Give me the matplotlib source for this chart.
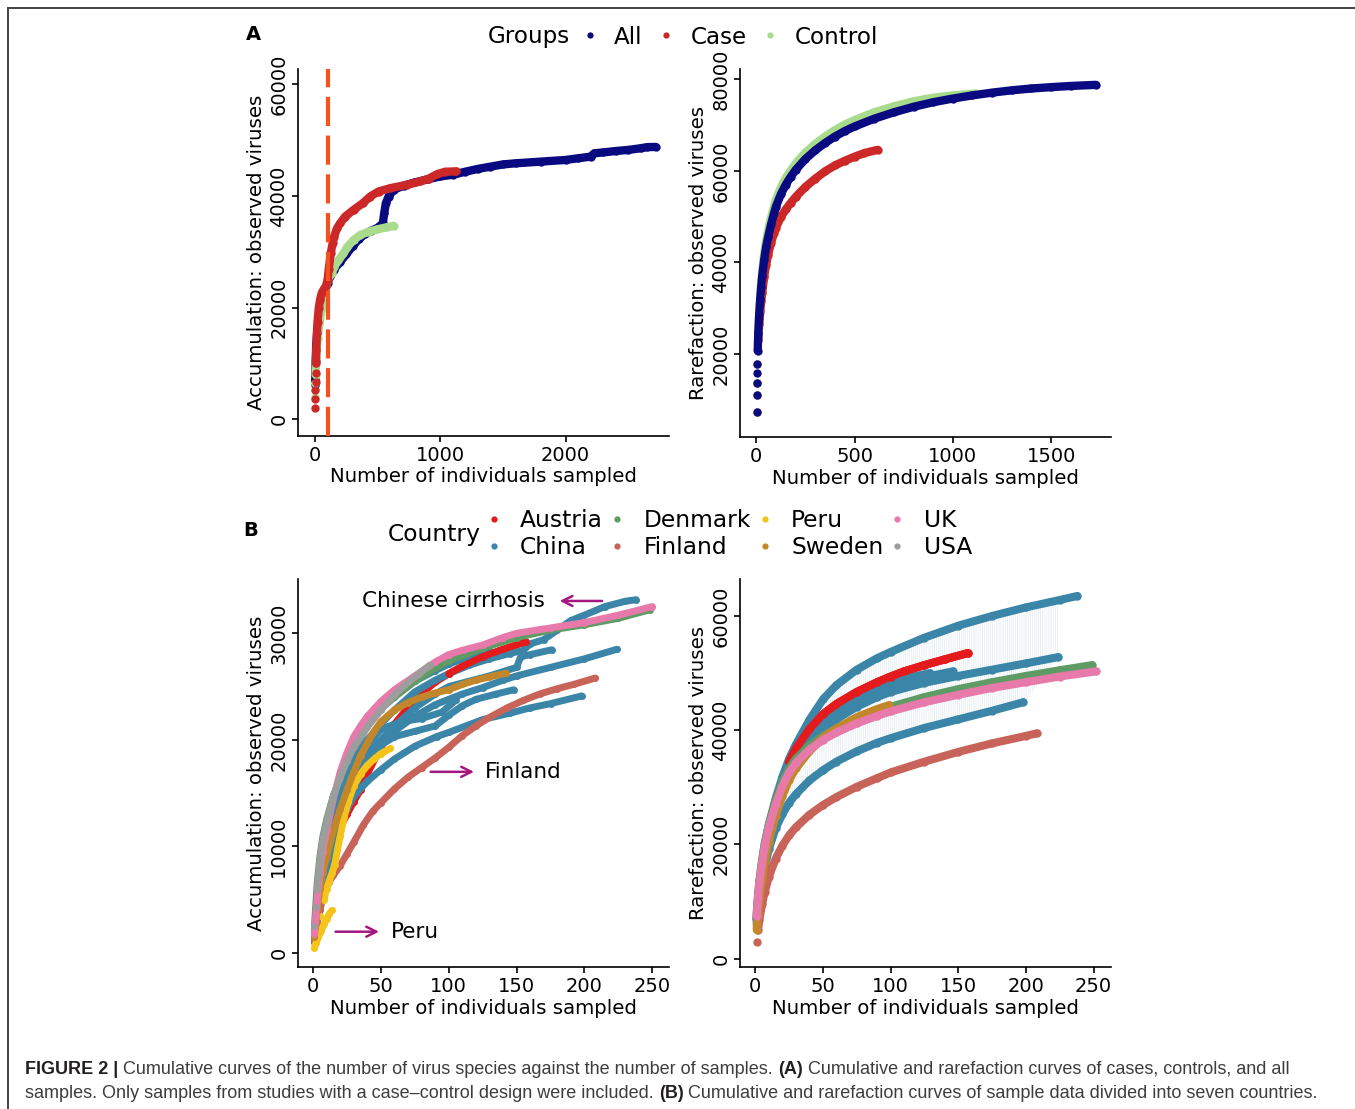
import matplotlib
matplotlib.use('Agg')
import matplotlib.pyplot as plt
from matplotlib.lines import Line2D
from matplotlib import font_manager

# ---------------- data ----------------
# Panel A: accumulation curves (x = individuals, y = observed viruses)
acc_all_x = [1, 2, 5, 10, 20, 50, 100, 150, 200, 250, 300, 350, 400, 450, 500, 541, 552, 565, 587, 627, 707,
             800, 900, 1000, 1100, 1200, 1300, 1400, 1500, 1600, 1800, 2000, 2100, 2200, 2230, 2300, 2400,
             2500, 2600, 2650, 2720]
acc_all_y = [6100, 7000, 10500, 13500, 16500, 20500, 24500, 26800, 28200, 29600, 31000, 32300, 33200, 33800,
             34300, 35100, 36900, 38700, 39900, 41100, 41850, 42450, 43000, 43500, 43800, 44350, 44850, 45250,
             45650, 45850, 46150, 46450, 46750, 47050, 47650, 47800, 48050, 48250, 48550, 48750, 48780]
acc_case_x = [1, 2, 3, 4, 5, 7, 10, 15, 20, 30, 40, 53, 70, 88, 100, 110, 125, 140, 152, 175, 200, 240, 307,
              381, 440, 507, 600, 733, 840, 907, 973, 1040, 1128]
acc_case_y = [2100, 3700, 5300, 6700, 8300, 10000, 12500, 15500, 17500, 20000, 21400, 22600, 23300, 23900,
              25000, 27000, 29700, 31500, 32700, 34200, 35100, 36300, 37500, 38700, 39900, 40800, 41400, 42000,
              42600, 43100, 43900, 44350, 44400]
acc_ctrl_x = [1, 2, 3, 5, 10, 20, 50, 100, 133, 152, 187, 227, 259, 307, 360, 427, 493, 573, 627]
acc_ctrl_y = [4000, 5200, 6500, 8000, 11000, 14500, 19500, 24900, 26200, 27300, 28500, 29700, 30900, 32100,
              33000, 33600, 34000, 34400, 34650]

# Panel A: rarefaction curves
rar_all_x = [1, 2, 3, 4, 5, 7, 10, 15, 20, 25, 30, 40, 50, 60, 75, 90, 100, 125, 150, 175, 200, 250, 300,
             350, 400, 450, 500, 600, 700, 800, 900, 1000, 1100, 1200, 1300, 1400, 1500, 1600, 1728]
rar_all_y = [7300, 11100, 13650, 15850, 17750, 20700, 24500, 28800, 32000, 34700, 37000, 40600, 43400, 45500,
             48300, 50700, 52200, 54900, 57000, 58700, 60200, 62600, 64500, 66100, 67500, 68700, 69700, 71400,
             72800, 74000, 75000, 75800, 76500, 77100, 77600, 78000, 78300, 78550, 78800]
rar_case_x = [1, 2, 3, 5, 10, 15, 20, 25, 30, 40, 50, 60, 75, 90, 100, 125, 150, 175, 200, 250, 300, 350, 400,
              450, 500, 550, 617]
rar_case_y = [7300, 11100, 13650, 17750, 23000, 26500, 29300, 31500, 33300, 36800, 39500, 41700, 44300, 46400,
              47600, 49900, 51600, 53000, 54300, 56500, 58300, 59900, 61200, 62200, 63100, 63900, 64600]
rar_ctrl_x = [1, 2, 3, 5, 10, 15, 20, 25, 30, 40, 50, 60, 75, 90, 100, 125, 150, 175, 200, 250, 300, 350, 400,
              450, 500, 600, 700, 800, 900, 1000, 1116]
rar_ctrl_y = [7300, 11100, 13650, 17750, 25000, 29500, 32900, 35700, 38100, 41900, 44800, 47000, 49800, 52200,
              53700, 56400, 58500, 60100, 61600, 64000, 65900, 67500, 68900, 70100, 71100, 72800, 74100, 75200,
              76000, 76500, 76900]

groups = ['All', 'Case', 'Control']
group_colors = ['#0A0A80', '#CD2828', '#A8DC8C']

# Panel B: accumulation curves by country
countries = ['Austria', 'China', 'Denmark', 'Finland', 'Peru', 'Sweden', 'UK', 'USA']
country_colors = ['#E41A1C', '#3B86A8', '#5E9B65', '#C8635A', '#F5C41A', '#C2872B', '#E77AAA', '#9D9D9D']

bacc_austria_x = [1, 3, 5, 7, 10, 15, 20, 25, 30, 35, 40, 50, 60, 75, 90, 100, 110, 125, 140, 157]
bacc_austria_y = [1500, 3500, 5000, 6300, 8000, 10200, 11800, 13000, 14200, 15300, 16800, 19300, 21500, 23800,
                  25400, 26200, 26900, 27800, 28500, 29200]
bacc_china1_x = [1, 3, 5, 7, 10, 15, 20, 25, 30, 40, 50, 60, 75, 90, 100, 115, 130, 145, 155, 160, 170, 180,
                 190, 200, 215, 230, 238]
bacc_china1_y = [1500, 4500, 6500, 8300, 10000, 12500, 14500, 16300, 17800, 20000, 21500, 22800, 24500, 25600,
                 26200, 27000, 27600, 28100, 28400, 29000, 29400, 30300, 31200, 31700, 32500, 33000, 33150]
bacc_china2_x = [1, 3, 5, 7, 10, 15, 20, 25, 30, 40, 50, 59, 75, 90, 100, 115, 130]
bacc_china2_y = [2000, 4800, 6500, 8300, 10500, 13300, 15500, 17400, 19000, 21300, 23000, 24000, 25500, 26500,
                 27100, 27800, 28430]
bacc_china3_x = [1, 5, 7, 10, 15, 20, 25, 30, 40, 50, 60, 75, 90, 100, 115, 130, 140, 150, 153, 160, 176]
bacc_china3_y = [1500, 5500, 7200, 9000, 11500, 13500, 15200, 16500, 18500, 20000, 21300, 23000, 24300, 25000,
                 25500, 26000, 26400, 26800, 27800, 28000, 28450]
bacc_china4_x = [1, 5, 7, 10, 15, 20, 25, 30, 40, 50, 60, 75, 90, 100, 110, 125, 140, 150, 175, 200, 224]
bacc_china4_y = [1200, 5000, 6700, 8500, 10800, 12500, 14100, 15500, 17800, 19700, 20800, 22200, 23300, 23800,
                 24300, 24900, 25600, 26000, 26800, 27600, 28500]
bacc_china5_x = [1, 5, 7, 10, 15, 20, 25, 30, 40, 50, 60, 75, 91, 100, 125, 145, 160, 175, 198]
bacc_china5_y = [1000, 4500, 6200, 8000, 10300, 12000, 13500, 14700, 16100, 17200, 18200, 19400, 20300, 20700,
                 21900, 22500, 23000, 23400, 24120]
bacc_china6_x = [1, 5, 7, 10, 15, 20, 25, 30, 40, 50, 60, 75, 90, 100, 110, 120, 135, 148]
bacc_china6_y = [1300, 5000, 6800, 8500, 11000, 13000, 14600, 16000, 18000, 19500, 20300, 20800, 21300, 22300,
                 23200, 23800, 24300, 24700]
bacc_china7_x = [1, 5, 7, 10, 15, 20, 25, 30, 40, 50, 65, 80, 95, 105]
bacc_china7_y = [1800, 6000, 7800, 9500, 12000, 14200, 15900, 17300, 19400, 21000, 21700, 22000, 22600, 23700]
bacc_denmark_x = [1, 2, 3, 5, 7, 10, 15, 20, 25, 30, 40, 50, 60, 75, 90, 100, 125, 150, 175, 200, 225, 248]
bacc_denmark_y = [2500, 4500, 6500, 9000, 10800, 12500, 14800, 16400, 18100, 19500, 21300, 22900, 24000, 25500,
                  26700, 27400, 28600, 29600, 30300, 30800, 31400, 32200]
bacc_finland_x = [1, 3, 5, 7, 9, 12, 15, 20, 25, 30, 37, 44, 50, 60, 70, 80, 90, 100, 110, 120, 130, 143, 155,
                  167, 180, 192, 208]
bacc_finland_y = [1200, 2800, 4000, 5100, 5900, 6700, 7300, 8200, 9300, 10400, 12000, 13300, 14100, 15400,
                  16500, 17400, 18300, 19300, 20400, 21300, 22100, 23000, 23700, 24300, 24800, 25200, 25800]
bacc_peru1_x = [1, 2, 4, 6, 8, 10, 12, 14]
bacc_peru1_y = [500, 900, 1500, 2100, 2700, 3200, 3700, 4000]
bacc_peru2_x = [2, 5, 8, 10, 12, 14, 16, 18, 20, 23, 26, 30, 35, 40, 45, 50, 57]
bacc_peru2_y = [1200, 3500, 5000, 6000, 6800, 7500, 8300, 9700, 11000, 12800, 14200, 15700, 16800, 17600, 18200,
                18700, 19200]
bacc_sweden_x = [1, 3, 5, 7, 10, 15, 20, 25, 30, 35, 40, 45, 50, 60, 70, 80, 90, 100, 110, 120, 130, 142]
bacc_sweden_y = [1500, 4000, 6000, 7500, 9000, 11500, 13500, 15300, 17000, 18500, 19700, 20800, 21700, 22800,
                 23500, 24000, 24400, 24700, 25200, 25600, 25900, 26250]
bacc_uk_x = [1, 2, 3, 5, 7, 10, 15, 20, 25, 30, 35, 40, 50, 60, 75, 90, 100, 110, 125, 140, 150, 175, 200,
             225, 250]
bacc_uk_y = [1800, 3500, 5000, 7500, 9500, 11500, 14500, 17000, 18800, 20300, 21300, 22200, 23600, 24700, 26000,
             27300, 28000, 28400, 28900, 29600, 30000, 30500, 31000, 31700, 32500]
bacc_usa_x = [1, 2, 3, 5, 7, 10, 15, 20, 25, 30, 40, 50, 60, 70, 78, 86]
bacc_usa_y = [2500, 4300, 6000, 8500, 10500, 12200, 14700, 16500, 18000, 19300, 21200, 22800, 24200, 25400,
              26200, 27000]

# Panel B: rarefaction curves by country
brar_austria_x = [1, 2, 3, 5, 7, 10, 15, 20, 25, 30, 40, 50, 60, 75, 90, 100, 110, 125, 140, 157]
brar_austria_y = [7000, 10300, 12800, 16500, 19500, 23000, 27500, 31000, 34500, 36800, 40200, 42800, 44600,
                  46700, 48400, 49400, 50300, 51400, 52400, 53500]
brar_china1_x = [1, 2, 3, 5, 7, 10, 15, 20, 25, 30, 40, 50, 60, 75, 90, 100, 125, 150, 175, 200, 225, 238]
brar_china1_y = [6800, 10500, 13000, 17000, 20000, 23500, 28000, 31800, 35000, 37500, 41800, 45400, 47900,
                 50600, 52600, 53700, 56200, 58300, 60000, 61500, 62800, 63500]
brar_china2_x = [1, 2, 3, 5, 7, 10, 15, 20, 25, 30, 40, 50, 60, 75, 90, 100, 125, 150, 175, 200, 224]
brar_china2_y = [6500, 9600, 12000, 15300, 18200, 21500, 26000, 29300, 32000, 34000, 37300, 40000, 41900, 44100,
                 45800, 46700, 48300, 49500, 50600, 51700, 52800]
brar_china3_x = [1, 3, 5, 7, 10, 15, 20, 25, 30, 40, 50, 60, 75, 90, 100, 125, 146]
brar_china3_y = [7000, 12300, 15800, 18800, 22200, 27000, 30500, 33200, 35300, 38600, 41000, 42900, 45100, 46800,
                 47700, 49300, 50300]
brar_china4_x = [1, 3, 5, 7, 10, 15, 20, 25, 30, 40, 50, 60, 75, 90, 100, 115, 129]
brar_china4_y = [7500, 12800, 16300, 19300, 22800, 27600, 31000, 33800, 36000, 39400, 41900, 43800, 45900, 47600,
                 48500, 49300, 50000]
brar_china5_x = [1, 2, 3, 5, 7, 10, 15, 20, 25, 30, 40, 50, 60, 75, 90, 100, 125, 150, 175, 198]
brar_china5_y = [6000, 8500, 10500, 13500, 16000, 19200, 22800, 25300, 27300, 28800, 31200, 33000, 34500, 36300,
                 37800, 38600, 40400, 41900, 43400, 44900]
brar_denmark_x = [1, 2, 3, 5, 7, 10, 15, 20, 25, 30, 40, 50, 60, 75, 90, 100, 125, 150, 175, 200, 225, 249]
brar_denmark_y = [8000, 11200, 13700, 17300, 20300, 23500, 27600, 30900, 33300, 35000, 37300, 39000, 40300,
                  42000, 43300, 44100, 45800, 47200, 48400, 49500, 50500, 51400]
brar_finland_x = [1, 2, 3, 5, 7, 10, 15, 20, 25, 30, 40, 50, 60, 75, 90, 100, 125, 150, 175, 200, 208]
brar_finland_y = [2900, 5000, 6800, 9500, 11700, 14300, 17500, 19800, 21600, 23000, 25200, 26900, 28300, 30100,
                  31600, 32600, 34500, 36200, 37700, 39000, 39450]
brar_sweden_x = [1, 2, 3, 5, 7, 10, 15, 20, 25, 30, 40, 50, 60, 75, 90, 99]
brar_sweden_y = [5100, 8000, 10400, 14000, 17000, 20500, 25000, 28500, 31300, 33300, 36300, 38700, 40300, 42300,
                 43700, 44400]
brar_uk_x = [1, 2, 3, 5, 7, 10, 15, 20, 25, 30, 40, 50, 60, 75, 90, 100, 125, 150, 175, 200, 225, 252]
brar_uk_y = [7500, 10700, 13200, 16800, 19700, 23000, 27000, 30200, 32600, 34300, 36600, 38300, 39600, 41200,
             42500, 43300, 44900, 46200, 47400, 48400, 49400, 50300]
# faint interval band behind the China rarefaction curves
band_x = [20, 25, 30, 40, 50, 60, 75, 90, 100, 125, 150, 175, 198, 210, 224]
band_lo = [25300, 27300, 28800, 31200, 33000, 34500, 36300, 37800, 38600, 40400, 41900, 43400, 44900, 48000, 52800]
band_hi = [31800, 35000, 37500, 41800, 45300, 47800, 50500, 52600, 53700, 56200, 58300, 60000, 61500, 62100, 62800]

# ---------------- figure ----------------
W, H = 1355, 1109
fig = plt.figure(figsize=(W / 100, H / 100), dpi=100)
fig.patch.set_facecolor('white')
plt.rcParams['hatch.linewidth'] = 0.5


def px_rect(l, t, r, b):
    return [l / W, 1 - b / H, (r - l) / W, (b - t) / H]


def style(ax, xlim, ylim, xticks, yticks, ylabel):
    ax.set_xlim(xlim)
    ax.set_ylim(ylim)
    ax.set_xticks(xticks)
    ax.set_yticks(yticks)
    for s in ['top', 'right']:
        ax.spines[s].set_visible(False)
    for s in ['left', 'bottom']:
        ax.spines[s].set_linewidth(1.2)
        ax.spines[s].set_color('black')
    ax.tick_params(length=4, width=1.2, labelsize=14, colors='black', pad=3)
    ax.tick_params(axis='y', labelrotation=90)
    for lab in ax.get_yticklabels():
        lab.set_va('center')
    ax.set_xlabel('Number of individuals sampled', fontsize=14.2, labelpad=2)
    ax.set_ylabel(ylabel, fontsize=14.2, labelpad=2.5)
    ax.patch.set_alpha(0)


def curve(ax, x, y, color, lw, ms, nsparse=0, z=2):
    ax.plot(x[nsparse:], y[nsparse:], color=color, lw=lw, solid_capstyle='round',
            solid_joinstyle='round', zorder=z)
    ax.plot(x, y, ls='none', marker='o', ms=ms, color=color, mec='none', zorder=z)


def tail_from(x, y, x0):
    i = next(k for k, v in enumerate(x) if v >= x0)
    return x[i:], y[i:]


# ---- Panel A left
axA1 = fig.add_axes(px_rect(298, 69, 669, 436))
style(axA1, (-136, 2825), (-2990, 62740), [0, 1000, 2000], [0, 20000, 40000, 60000],
      'Accumulation: observed viruses')
curve(axA1, acc_all_x, acc_all_y, group_colors[0], 6, 6, nsparse=1, z=2)
curve(axA1, acc_ctrl_x, acc_ctrl_y, group_colors[2], 6, 6, nsparse=3, z=3)
curve(axA1, acc_case_x, acc_case_y, group_colors[1], 6, 6, nsparse=5, z=4)
axA1.axvline(100, color='#F4511E', lw=3, ls=(0, (7, 2.3)), zorder=6)

# ---- Panel A right
axA2 = fig.add_axes(px_rect(740, 69, 1111, 437))
style(axA2, (-83, 1805), (1860, 82260), [0, 500, 1000, 1500], [20000, 40000, 60000, 80000],
      'Rarefaction: observed viruses')
curve(axA2, rar_case_x, rar_case_y, group_colors[1], 6, 6, nsparse=4, z=2)
curve(axA2, rar_ctrl_x, rar_ctrl_y, group_colors[2], 6, 6, nsparse=4, z=3)
curve(axA2, rar_all_x, rar_all_y, group_colors[0], 6, 6, nsparse=5, z=4)

# ---- Panel B left
axB1 = fig.add_axes(px_rect(298, 579, 669, 967))
style(axB1, (-11.1, 262.3), (-1312, 35090), [0, 50, 100, 150, 200, 250], [0, 10000, 20000, 30000],
      'Accumulation: observed viruses')
cc = dict(zip(countries, country_colors))
LWB = 5
MSB = 5
curve(axB1, bacc_austria_x, bacc_austria_y, cc['Austria'], LWB, MSB, z=2)
for xs, ys in [(bacc_china1_x, bacc_china1_y), (bacc_china2_x, bacc_china2_y), (bacc_china3_x, bacc_china3_y),
               (bacc_china4_x, bacc_china4_y), (bacc_china5_x, bacc_china5_y), (bacc_china6_x, bacc_china6_y),
               (bacc_china7_x, bacc_china7_y)]:
    curve(axB1, xs, ys, cc['China'], LWB, MSB, z=2.5)
tx, ty = tail_from(bacc_austria_x, bacc_austria_y, 100)
curve(axB1, tx, ty, cc['Austria'], LWB, MSB, z=2.6)
curve(axB1, bacc_denmark_x, bacc_denmark_y, cc['Denmark'], LWB, MSB, z=3)
curve(axB1, bacc_finland_x, bacc_finland_y, cc['Finland'], LWB, MSB, z=4)
curve(axB1, bacc_peru1_x, bacc_peru1_y, cc['Peru'], LWB, MSB, z=5)
curve(axB1, bacc_peru2_x, bacc_peru2_y, cc['Peru'], LWB, MSB, nsparse=2, z=5)
curve(axB1, bacc_sweden_x, bacc_sweden_y, cc['Sweden'], LWB, MSB, z=6)
curve(axB1, bacc_uk_x, bacc_uk_y, cc['UK'], LWB, MSB, z=7)
curve(axB1, bacc_usa_x, bacc_usa_y, cc['USA'], LWB, MSB, nsparse=2, z=8)

ann_color = '#A3177F'
axB1.text(35.9, 33030, 'Chinese cirrhosis', fontsize=15.5, va='center', ha='left', zorder=10)
axB1.annotate('', xy=(179.7, 33030), xytext=(215, 33030),
              arrowprops=dict(arrowstyle='->', color=ann_color, lw=1.8, mutation_scale=18), zorder=10)
axB1.text(126.6, 17000, 'Finland', fontsize=15.5, va='center', ha='left', zorder=10)
axB1.annotate('', xy=(120.7, 17000), xytext=(84.6, 17000),
              arrowprops=dict(arrowstyle='->', color=ann_color, lw=1.8, mutation_scale=18), zorder=10)
axB1.text(57.3, 2000, 'Peru', fontsize=15.5, va='center', ha='left', zorder=10)
axB1.annotate('', xy=(50.7, 2000), xytext=(14.5, 2000),
              arrowprops=dict(arrowstyle='->', color=ann_color, lw=1.8, mutation_scale=18), zorder=10)

# ---- Panel B right
axB2 = fig.add_axes(px_rect(740, 579, 1111, 967))
style(axB2, (-11.3, 262.9), (-1452, 66470), [0, 50, 100, 150, 200, 250], [0, 20000, 40000, 60000],
      'Rarefaction: observed viruses')
axB2.fill_between(band_x, band_lo, band_hi, facecolor='none', edgecolor='#e0eaef', hatch='||||||||',
                  linewidth=0, zorder=1)
LWR = 5.8
MSR = 6
curve(axB2, brar_austria_x, brar_austria_y, cc['Austria'], LWR, MSR, z=3)
for xs, ys in [(brar_china1_x, brar_china1_y), (brar_china2_x, brar_china2_y), (brar_china3_x, brar_china3_y),
               (brar_china4_x, brar_china4_y), (brar_china5_x, brar_china5_y)]:
    curve(axB2, xs, ys, cc['China'], LWR, MSR, z=3.5)
tx, ty = tail_from(brar_austria_x, brar_austria_y, 25)
curve(axB2, tx, ty, cc['Austria'], LWR, MSR, z=3.6)
curve(axB2, brar_denmark_x, brar_denmark_y, cc['Denmark'], LWR, MSR, z=4)
curve(axB2, brar_finland_x, brar_finland_y, cc['Finland'], LWR, MSR, nsparse=1, z=5)
curve(axB2, brar_sweden_x, brar_sweden_y, cc['Sweden'], LWR, MSR, z=6)
curve(axB2, brar_uk_x, brar_uk_y, cc['UK'], LWR, MSR, z=7)

# ---- Legends
fig.text(488 / W, 1 - 37 / H, 'Groups', fontsize=16.6, va='center', ha='left')
hA = [Line2D([], [], ls='none', marker='o', ms=4.5, color=c, mec='none') for c in group_colors]
fig.legend(hA, groups, loc='center left', bbox_to_anchor=(584 / W, 1 - 37 / H), ncol=3, frameon=False,
           fontsize=16.6, handlelength=0.5, handletextpad=0.8, columnspacing=0.78, borderpad=0,
           borderaxespad=0)

fig.text(388 / W, 1 - 534 / H, 'Country', fontsize=16.8, va='center', ha='left')
hB = [Line2D([], [], ls='none', marker='o', ms=4.5, color=c, mec='none') for c in country_colors]
fig.legend(hB, countries, loc='center left', bbox_to_anchor=(488 / W, 1 - 534 / H), ncol=4, frameon=False,
           fontsize=16.8, handlelength=0.5, handletextpad=0.88, columnspacing=0.35, borderpad=0,
           borderaxespad=0, labelspacing=0.18)

fig.text(253 / W, 1 - 35 / H, 'A', fontsize=14, fontweight='bold', ha='center', va='center')
fig.text(251 / W, 1 - 531 / H, 'B', fontsize=14, fontweight='bold', ha='center', va='center')

# ---- frame lines
fig.add_artist(Line2D([8 / W, 8 / W], [0, 1 - 8 / H], transform=fig.transFigure, color='#444444', lw=1.4))
fig.add_artist(Line2D([8 / W, 1], [1 - 8 / H, 1 - 8 / H], transform=fig.transFigure, color='#444444', lw=1.4))

# ---- caption
cap_family = 'Liberation Sans'
try:
    font_manager.findfont(font_manager.FontProperties(family='Liberation Sans Narrow'),
                          fallback_to_default=False)
    cap_family = 'Liberation Sans Narrow'
except Exception:
    cap_family = 'Liberation Sans'

cap_lines = [
    [('FIGURE 2 |', True), ('Cumulative curves of the number of virus species against the number of samples.', False),
     ('(A)', True), ('Cumulative and rarefaction curves of cases, controls, and all', False)],
    [('samples. Only samples from studies with a case\u2013control design were included.', False),
     ('(B)', True), ('Cumulative and rarefaction curves of sample data divided into seven countries.', False)],
]
cap_y = [1069, 1094]
renderer = fig.canvas.get_renderer()


def text_w(s, fs, bold):
    t = fig.text(0, 0, s, fontsize=fs, family=cap_family, fontweight='bold' if bold else 'normal')
    w = t.get_window_extent(renderer).width
    t.remove()
    return w


def line_width(segs, fs):
    sp = text_w('x x', fs, False) - text_w('xx', fs, False)
    return sum(text_w(s, fs, b) for s, b in segs) + sp * (len(segs) - 1)


fs0 = 10
w0 = line_width(cap_lines[0], fs0)
cap_fs = fs0 * (1293 - 25) / w0
space_w = text_w('x x', cap_fs, False) - text_w('xx', cap_fs, False)
for segs, yy in zip(cap_lines, cap_y):
    x = 25
    for s, b in segs:
        t = fig.text(x / W, 1 - yy / H, s, fontsize=cap_fs, family=cap_family,
                     fontweight='bold' if b else 'normal', va='center', ha='left',
                     color='#231f20' if b else '#3d3d3d')
        x += t.get_window_extent(renderer).width + space_w

fig.savefig('out.png', dpi=100, facecolor='white')
